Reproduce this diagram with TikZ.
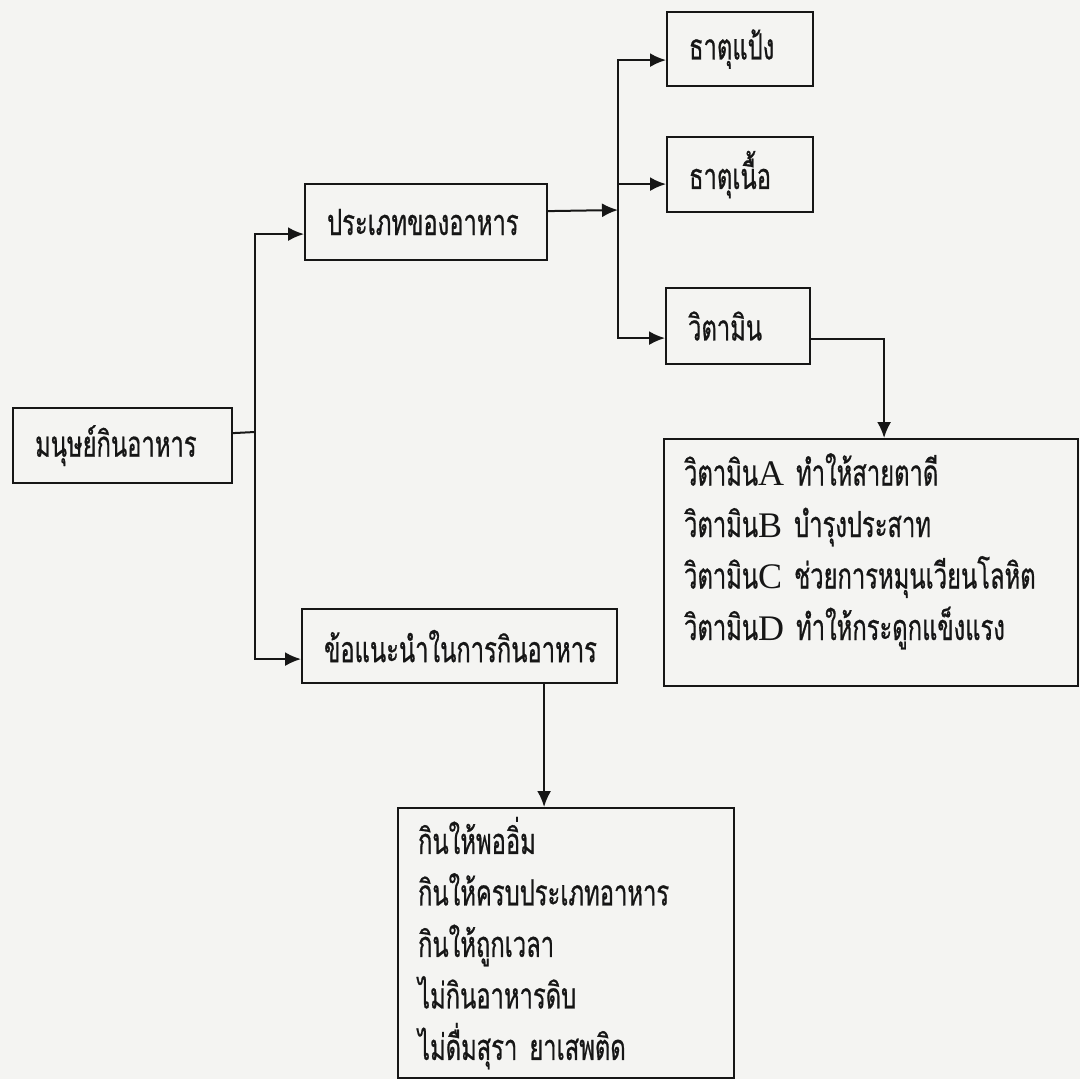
\documentclass[tikz,border=0pt]{standalone}
\usepackage{fontspec}
\newfontfamily\thaifont[Script=Thai,FakeStretch=0.66,FakeBold=0.6]{Loma}
\newfontfamily\latinfont{Liberation Serif}
\usetikzlibrary{arrows.meta}
\usetikzlibrary{positioning}
\definecolor{scan}{RGB}{244,244,242}
\definecolor{ink}{RGB}{22,22,22}

\begin{document}
\begin{tikzpicture}[x=1pt, y=-1pt, every node/.style={font=\thaifont\fontsize{36}{51.5}\selectfont, text=ink}]
				\tikzstyle{topicnode}=[draw=ink, line width=2.2pt, anchor=north west, align=left, inner xsep=22pt, inner ysep=0pt]
				\tikzstyle{listnode}=[draw=ink, line width=2.2pt, anchor=north west, align=left, inner xsep=20pt, inner ysep=0pt]
				\tikzstyle{link}=[draw=ink, line width=2pt]
				\tikzstyle{linkarrow}=[link, -{Latex[length=16pt,width=14pt]}]
				
				\fill[scan] (0,0) rectangle (1080,1079);
				\useasboundingbox (0,0) rectangle (1080,1079);
				
				% main topic and its two branches
				\node (man) at (12,407) [topicnode, minimum width=219pt, minimum height=75pt, text width=175pt] {มนุษย์กินอาหาร};
				\node (kind) at (304,183) [topicnode, minimum width=242pt, minimum height=76pt, text width=198pt] {ประเภทของอาหาร};
				\node (advice) at (301,608) [topicnode, minimum width=315pt, minimum height=74pt, text width=271pt] {ข้อแนะนำในการกินอาหาร};
				
				% kinds of food
				\node (starch) at (666,11) [topicnode, minimum width=146pt, minimum height=74pt, text width=102pt] {ธาตุแป้ง};
				\node (meat) at (666,136) [topicnode, minimum width=146pt, minimum height=75pt, text width=102pt] {ธาตุเนื้อ};
				\node (vita) at (665,287) [topicnode, minimum width=144pt, minimum height=76pt, text width=100pt] {วิตามิน};
				
				% the two lists (struts move the lines up or down in their box)
				\node (vitlist) at (663,438) [listnode, minimum width=414pt, minimum height=247pt, text width=374pt] {วิตามิน{\latinfont A} ทำให้สายตาดี\\ วิตามิน{\latinfont B} บำรุงประสาท\\ วิตามิน{\latinfont C} ช่วยการหมุนเวียนโลหิต\\ วิตามิน{\latinfont D} ทำให้กระดูกแข็งแรง\rule[-32pt]{0pt}{0pt}};
				\node (eatlist) at (397,807) [listnode, minimum width=336pt, minimum height=270pt, text width=296pt] {กินให้พออิ่ม\\ กินให้ครบประเภทอาหาร\\ กินให้ถูกเวลา\\ ไม่กินอาหารดิบ\\ ไม่ดื่มสุรา ยาเสพติด};
				
				\coordinate (j1) at (255,432);
				\coordinate (j2) at (618,210);
				\draw [link] ([yshift=12.5pt]man.east) -- (j1);
				\draw [linkarrow] (j1) |- ([yshift=-12pt]kind.west);
				\draw [linkarrow] (j1) |- ([yshift=-13pt]advice.west);
				
				\draw [linkarrow] ([yshift=11pt]kind.east) -- (j2);
				\draw [linkarrow] (j2) |- ([yshift=-11pt]starch.west);
				\draw [linkarrow] (j2) |- ([yshift=-9.5pt]meat.west);
				\draw [linkarrow] (j2) |- ([yshift=-12pt]vita.west);
				
				\draw [linkarrow] ([yshift=-13pt]vita.east) -| ([xshift=13pt]vitlist.north);
				\draw [linkarrow] ([xshift=84.5pt]advice.south) -- ([xshift=-22pt]eatlist.north);
				\end{tikzpicture}
\end{document}
